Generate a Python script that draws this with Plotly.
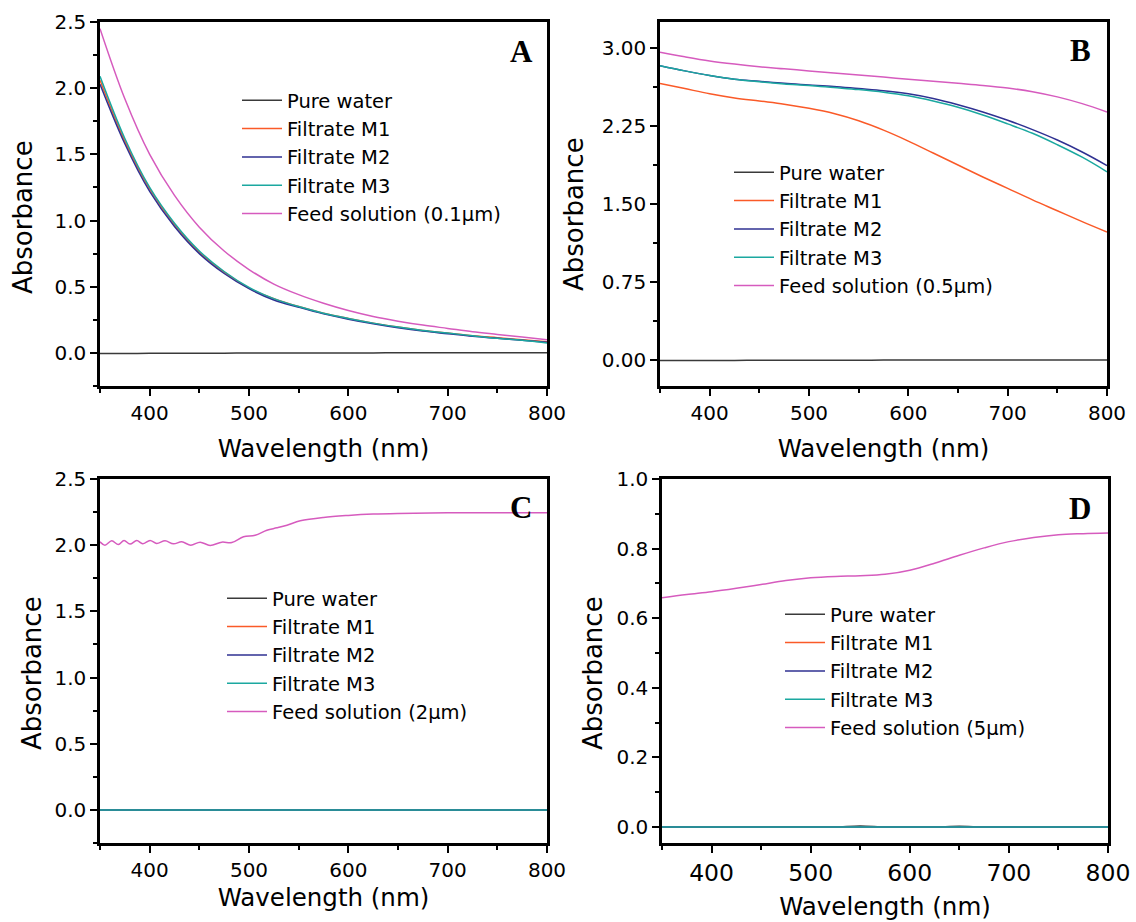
import plotly.graph_objects as go

# ---------------- data ----------------
wavelength = [350, 375, 400, 425, 450, 475, 500, 525, 550, 575,
              600, 625, 650, 675, 700, 725, 750, 775, 800]

# Panel A (0.1 um feed)
a_pure = [-0.004, -0.004, -0.003, -0.003, -0.002, -0.002, -0.001, -0.001, 0.0, 0.0,
          0.0, 0.0, 0.001, 0.001, 0.001, 0.001, 0.002, 0.002, 0.002]
a_m1 = [2.06, 1.60, 1.24, 0.97, 0.76, 0.61, 0.49, 0.41, 0.35, 0.30,
        0.26, 0.225, 0.195, 0.17, 0.15, 0.13, 0.115, 0.10, 0.085]
a_m2 = [2.03, 1.58, 1.22, 0.955, 0.75, 0.60, 0.485, 0.40, 0.345, 0.295,
        0.255, 0.22, 0.19, 0.165, 0.145, 0.125, 0.11, 0.095, 0.08]
a_m3 = [2.09, 1.62, 1.25, 0.98, 0.77, 0.615, 0.495, 0.41, 0.35, 0.30,
        0.26, 0.225, 0.195, 0.17, 0.15, 0.13, 0.11, 0.095, 0.075]
a_feed = [2.45, 1.92, 1.50, 1.19, 0.95, 0.77, 0.63, 0.52, 0.44, 0.375,
          0.32, 0.275, 0.24, 0.21, 0.185, 0.16, 0.14, 0.12, 0.10]

# Panel B (0.5 um feed)
b_pure = [-0.005, -0.005, -0.004, -0.004, -0.003, -0.003, -0.002, -0.002, -0.002, -0.001,
          -0.001, -0.001, 0.0, 0.0, 0.0, 0.0, 0.0, 0.0, 0.0]
b_m1 = [2.66, 2.61, 2.56, 2.52, 2.49, 2.46, 2.42, 2.37, 2.30, 2.21,
        2.105, 1.99, 1.875, 1.76, 1.65, 1.54, 1.435, 1.33, 1.23]
b_m2 = [2.83, 2.78, 2.735, 2.70, 2.68, 2.66, 2.645, 2.63, 2.61, 2.59,
        2.56, 2.515, 2.455, 2.385, 2.305, 2.215, 2.115, 2.00, 1.87]
b_m3 = [2.83, 2.78, 2.735, 2.70, 2.675, 2.655, 2.64, 2.62, 2.60, 2.575,
        2.54, 2.49, 2.43, 2.355, 2.27, 2.18, 2.07, 1.95, 1.81]
b_feed = [2.96, 2.915, 2.875, 2.845, 2.82, 2.80, 2.78, 2.76, 2.74, 2.72,
          2.70, 2.68, 2.66, 2.64, 2.615, 2.58, 2.53, 2.465, 2.385]

# Panel C (2 um feed); feed spectrum sampled on its own grid
c_zero = [0.0] * len(wavelength)
c_feed_wl = [350.0, 355.0, 361.8, 368.5, 374.2, 380.2, 387.0, 393.0, 400.4, 407.1,
             415.5, 423.9, 432.3, 441.4, 450.8, 460.9, 472.6, 482.7, 494.5, 506.2,
             518.0, 528.1, 538.2, 551.6, 575.0, 600.0, 625.0, 650.0, 700.0, 750.0,
             800.0]
c_feed = [2.025, 2.000, 2.033, 2.005, 2.035, 2.008, 2.035, 2.010, 2.035, 2.013,
          2.033, 2.010, 2.025, 2.000, 2.023, 1.998, 2.023, 2.020, 2.063, 2.075,
          2.113, 2.131, 2.151, 2.184, 2.210, 2.225, 2.235, 2.240, 2.245, 2.245,
          2.245]

# Panel D (5 um feed)
d_pure = [0.0, 0.0, -0.001, 0.0, 0.0, 0.001, 0.0, 0.0, 0.003, 0.0,
          0.0, 0.0, 0.002, 0.0, 0.0, -0.001, 0.0, 0.0, 0.0]
d_zero = [0.0] * len(wavelength)
d_feed = [0.659, 0.668, 0.676, 0.686, 0.697, 0.708, 0.716, 0.720, 0.722, 0.726,
          0.738, 0.758, 0.781, 0.802, 0.820, 0.832, 0.840, 0.843, 0.845]

series_names = ["Pure water", "Filtrate M1", "Filtrate M2", "Filtrate M3"]
colors = {"Pure water": "#3a3a3a", "Filtrate M1": "#fa5a28",
          "Filtrate M2": "#2f3192", "Filtrate M3": "#1ba8a0", "Feed": "#d65bbe"}

panels = [
    # (axis suffix, legend id, filtrate/pure lists, feed x, feed y, feed label)
    ("", "legend", [a_pure, a_m1, a_m2, a_m3], wavelength, a_feed, "Feed solution (0.1\u03bcm)"),
    ("2", "legend2", [b_pure, b_m1, b_m2, b_m3], wavelength, b_feed, "Feed solution (0.5\u03bcm)"),
    ("3", "legend3", [c_zero, c_zero, c_zero, c_zero], c_feed_wl, c_feed, "Feed solution (2\u03bcm)"),
    ("4", "legend4", [d_pure, d_zero, d_zero, d_zero], wavelength, d_feed, "Feed solution (5\u03bcm)"),
]

fig = go.Figure()
for suffix, leg, lists, fx, fy, flabel in panels:
    for name, ys in zip(series_names, lists):
        fig.add_trace(go.Scatter(
            x=wavelength, y=ys, name=name, mode="lines",
            line=dict(color=colors[name], width=1.5, shape="spline"),
            xaxis="x" + suffix, yaxis="y" + suffix, legend=leg))
    fig.add_trace(go.Scatter(
        x=fx, y=fy, name=flabel, mode="lines",
        line=dict(color=colors["Feed"], width=1.5, shape="spline"),
        xaxis="x" + suffix, yaxis="y" + suffix, legend=leg))

FONT = "DejaVu Sans, Verdana, sans-serif"


def axis(domain, rng, dtick, minor_dtick, tick0, fmt=None, title="", title_size=24.5,
         tick_size=20, standoff=10, anchor=None):
    d = dict(domain=domain, range=rng, showline=True, linecolor="black", linewidth=2.5,
             mirror=True, ticks="outside", ticklen=7, tickwidth=2, tickcolor="black",
             showgrid=False, zeroline=False, tick0=tick0, dtick=dtick, automargin=False,
             tickfont=dict(family=FONT, size=tick_size, color="black"),
             minor=dict(ticks="outside", ticklen=4, tickwidth=2, tickcolor="black",
                        dtick=minor_dtick, tick0=tick0, showgrid=False),
             title=dict(text=title, font=dict(family=FONT, size=title_size, color="black"),
                        standoff=standoff),
             anchor=anchor)
    if fmt:
        d["tickformat"] = fmt
    return d


xl = [100 / 1136, 547 / 1136]
xr_b = [660 / 1136, 1107 / 1136]
xr_d = [662 / 1136, 1108 / 1136]
yt = [1 - 386 / 922, 1 - 22 / 922]
yb = [1 - 843 / 922, 1 - 479 / 922]

fig.update_layout(
    template="none",
    width=1136, height=922, margin=dict(l=0, r=0, t=0, b=0, autoexpand=False),
    paper_bgcolor="white", plot_bgcolor="white",
    font=dict(family=FONT, color="black"),
    xaxis=axis(xl, [350, 800], 100, 50, 400, title="Wavelength (nm)", anchor="y", standoff=17),
    yaxis=axis(yt, [-0.25, 2.5], 0.5, 0.25, 0, ".1f", anchor="x"),
    xaxis2=axis(xr_b, [350, 800], 100, 50, 400, title="Wavelength (nm)", anchor="y2", standoff=17),
    yaxis2=axis(yt, [-0.25, 3.25], 0.75, 0.375, 0, ".2f", anchor="x2"),
    xaxis3=axis(xl, [350, 800], 100, 50, 400, title="Wavelength (nm)", anchor="y3", standoff=9),
    yaxis3=axis(yb, [-0.25, 2.5], 0.5, 0.25, 0, ".1f", anchor="x3"),
    xaxis4=axis(xr_d, [350, 800], 100, 50, 400, title="Wavelength (nm)", anchor="y4",
                tick_size=23.5, standoff=12),
    yaxis4=axis(yb, [-0.046, 1.0], 0.2, 0.1, 0, ".1f", anchor="x4"),
    showlegend=True,
)

# y-axis titles, placed beside each panel
for px, py in [(23, 217), (574, 214), (32, 673), (593, 673)]:
    fig.add_annotation(text="Absorbance", x=px / 1136, y=1 - py / 922,
                       xref="paper", yref="paper", showarrow=False, textangle=-90,
                       xanchor="center", yanchor="middle",
                       font=dict(family=FONT, size=26, color="black"))

legend_common = dict(bgcolor="rgba(0,0,0,0)", borderwidth=0, xanchor="left", yanchor="top",
                     font=dict(family=FONT, size=19.5, color="black"), itemwidth=40,
                     tracegroupgap=0)
fig.update_layout(
    legend=dict(x=237 / 1136, y=1 - 81 / 922, **legend_common),
    legend2=dict(x=729 / 1136, y=1 - 153 / 922, **legend_common),
    legend3=dict(x=222 / 1136, y=1 - 579 / 922, **legend_common),
    legend4=dict(x=780 / 1136, y=1 - 595 / 922, **legend_common),
)

# panel letters
for label, px, py in [("A", 521, 51), ("B", 1080, 50), ("C", 521, 507), ("D", 1080, 508)]:
    fig.add_annotation(text="<b>%s</b>" % label, x=px / 1136, y=1 - py / 922,
                       xref="paper", yref="paper", showarrow=False,
                       xanchor="center", yanchor="middle",
                       font=dict(family="Liberation Serif, Times New Roman, serif",
                                 size=31, color="black"))

fig.write_html("out.html")
